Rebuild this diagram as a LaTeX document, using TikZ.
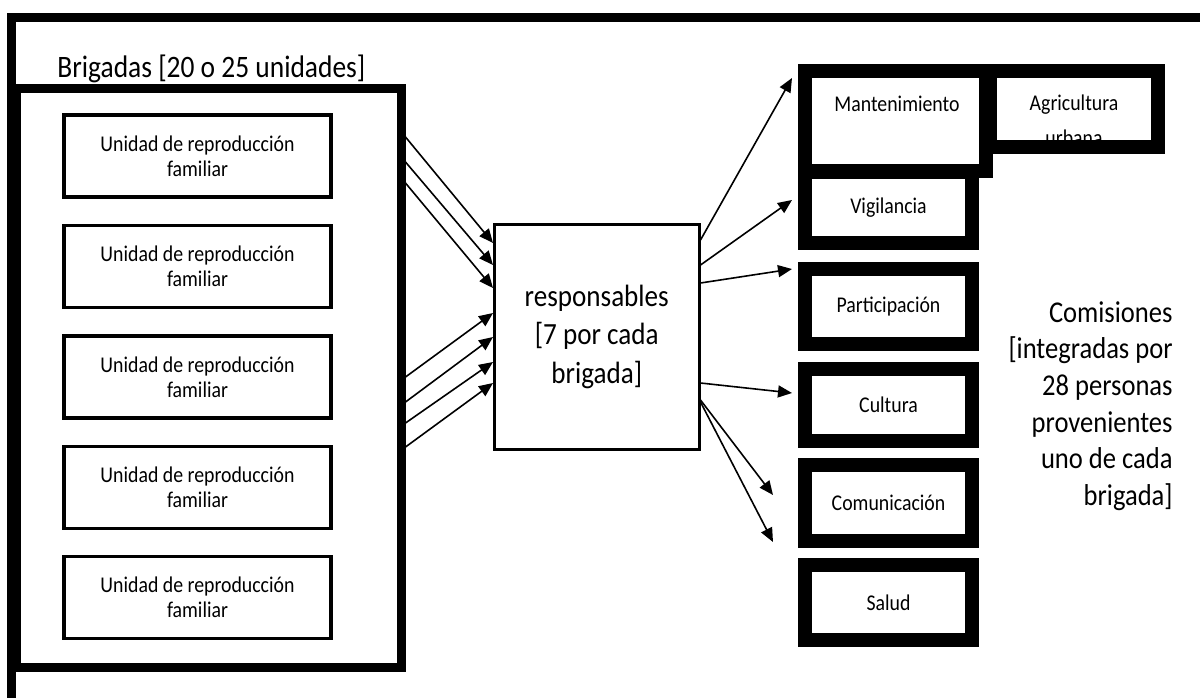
\documentclass[tikz,border=0pt]{standalone}
\usepackage{fontspec}
\setmainfont{Carlito}[FakeStretch=0.88]
\usetikzlibrary{arrows.meta}
\begin{document}
\begin{tikzpicture}[x=0.5pt,y=-0.5pt,
  smallf/.style={font=\fontsize{11.25pt}{12.5pt}\selectfont},
  brigf/.style={font=\fontsize{15.6pt}{19pt}\selectfont},
  respf/.style={font=\fontsize{15.4pt}{19.3pt}\selectfont},
  comf/.style={font=\fontsize{15.1pt}{18.35pt}\selectfont},
  unitbox/.style={draw, line width=1.75pt, minimum width=133.5pt, minimum height=41pt, inner sep=0pt, smallf, align=center},
  combox/.style={draw, line width=7pt, inner sep=0pt, smallf, align=center},
  arr/.style={line width=0.8pt, -{Triangle[length=7pt,width=6pt]}}
]
\useasboundingbox (0,0) rectangle (1200,697);
\clip (0,0) rectangle (1200,697);
\fill[white] (0,0) rectangle (1200,697);
% outer frame
\draw[line width=4.5pt] (11,17.5) rectangle (1220,720);
% brigadas
\node[brigf, anchor=base west, inner sep=0pt] (brigtitle) at (57,77) {Brigadas [20 o 25 unidades]};
\node[draw, line width=4.5pt, minimum width=192.5pt, minimum height=289.75pt, inner sep=0pt] (brig) at (208.5,377.75) {};
\node[unitbox] (u1) at (197.5,156) {Unidad de reproducción\\familiar};
\node[unitbox] (u2) at (197.5,266.5) {Unidad de reproducción\\familiar};
\node[unitbox] (u3) at (197.5,377) {Unidad de reproducción\\familiar};
\node[unitbox] (u4) at (197.5,487.5) {Unidad de reproducción\\familiar};
\node[unitbox] (u5) at (197.5,597.5) {Unidad de reproducción\\familiar};
% responsables
\node[draw, line width=1.5pt, minimum width=102.25pt, minimum height=112.25pt, inner sep=0pt, respf, align=center] (resp) at (596.75,336.75) {responsables\\{[}7 por cada\\brigada]};
% comisiones
\node[combox, minimum width=90.5pt, minimum height=50pt] (mant) at (895.5,121) {};
\node[smallf, anchor=base, inner sep=0pt] (manttext) at (897,111) {Mantenimiento};
\node[smallf, align=center, anchor=north, inner sep=0pt, font=\fontsize{11.25pt}{17.5pt}\selectfont] (agritext) at (1074,94) {Agricultura\\urbana};
\node[combox, minimum width=84pt, minimum height=38pt] (agri) at (1074,109) {};
\node[combox, minimum width=83.5pt, minimum height=35.5pt] (vig) at (888.5,207.5) {Vigilancia};
\node[combox, minimum width=83.5pt, minimum height=37.5pt] (part) at (888.5,306.5) {Participación};
\node[combox, minimum width=83.5pt, minimum height=36pt] (cult) at (888.5,405) {Cultura};
\node[combox, minimum width=83.5pt, minimum height=38pt] (com) at (888.5,503) {Comunicación};
\node[combox, minimum width=83.5pt, minimum height=37.5pt] (salud) at (888.5,602.5) {Salud};
\node[comf, align=right, anchor=east, inner sep=0pt] (comtext) at (1173,406) {Comisiones\\{[}integradas por\\28 personas\\provenientes\\uno de cada\\brigada]};
% left arrows
\coordinate (a1) at (405,137); \coordinate (b1) at (493,243);
\coordinate (a2) at (405,162); \coordinate (b2) at (493,265);
\coordinate (a3) at (405,183); \coordinate (b3) at (493,288);
\coordinate (a4) at (405,377); \coordinate (b4) at (493,313);
\coordinate (a5) at (405,402); \coordinate (b5) at (493,337);
\coordinate (a6) at (405,423); \coordinate (b6) at (493,362);
\coordinate (a7) at (405,447); \coordinate (b7) at (493,383);
\foreach \i in {1,...,7}{\draw[arr] (brig.east |- a\i) -- (resp.west |- b\i);}
% right arrows
\coordinate (c1) at (700,240); \coordinate (d1) at (792,78);
\coordinate (c2) at (700,265); \coordinate (d2) at (792,200);
\coordinate (c3) at (700,283); \coordinate (d3) at (792,269);
\coordinate (c4) at (700,383); \coordinate (d4) at (792,393);
\coordinate (c5) at (700,400); \coordinate (d5) at (773,495);
\coordinate (c6) at (700,402); \coordinate (d6) at (773,542);
\draw[arr] (resp.east |- c1) -- (d1);
\draw[arr] (resp.east |- c2) -- (d2);
\draw[arr] (resp.east |- c3) -- (d3);
\draw[arr] (resp.east |- c4) -- (d4);
\draw[arr] (resp.east |- c5) -- (d5);
\draw[arr] (resp.east |- c6) -- (d6);
\end{tikzpicture}
\end{document}
